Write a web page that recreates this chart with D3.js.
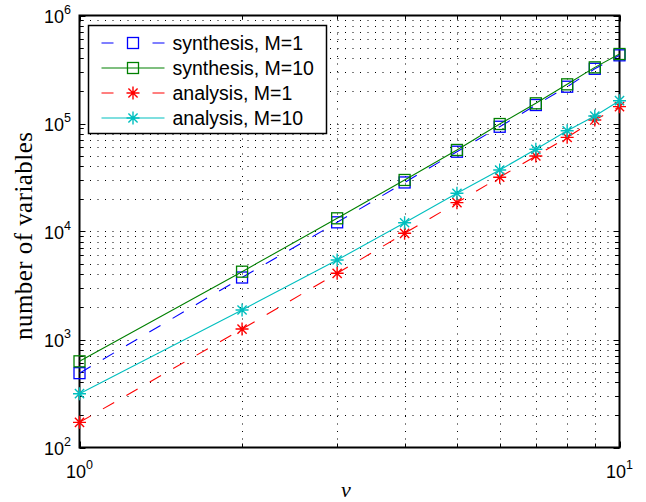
<!DOCTYPE html>
<html>
<head>
<meta charset="utf-8">
<script src="https://cdn.jsdelivr.net/npm/d3@7"></script>
<style>
  body { margin: 0; background: #fff; }
  svg { display: block; }
</style>
</head>
<body>
<div id="chart"></div>
<script>
// data
var nu = [1, 2, 3, 4, 5, 6, 7, 8, 9, 10];
var synthesisM1 = [488, 3750, 12160, 28450, 54800, 93300, 148300, 219000, 321000, 427800];
var synthesisM10 = [628, 4246, 13250, 30000, 56900, 98900, 153800, 230500, 331000, 440000];
var analysisM1 = [171, 1250, 4100, 9620, 18500, 31800, 50000, 74400, 107700, 143200];
var analysisM10 = [315, 1875, 5445, 12050, 22600, 37100, 57700, 85700, 117200, 162600];
var seriesNames = ['synthesis, M=1', 'synthesis, M=10', 'analysis, M=1', 'analysis, M=10'];
var xTickExp = [0, 1];
var yTickExp = [2, 3, 4, 5, 6];

// params
var width = 646;
var height = 502;
var plotLeft = 79.5, plotRight = 619.5, plotTop = 15.5, plotBottom = 447.5;
var sansFont = '"Liberation Sans", Arial, Helvetica, sans-serif';
var serifFont = '"Liberation Serif", "Times New Roman", serif';

var series = [
  { name: seriesNames[0], values: synthesisM1, color: '#0000ff', dash: '13,14', marker: 'square' },
  { name: seriesNames[1], values: synthesisM10, color: '#008000', dash: null, marker: 'square' },
  { name: seriesNames[2], values: analysisM1, color: '#ff0000', dash: '13,14', marker: 'star' },
  { name: seriesNames[3], values: analysisM10, color: '#00bfbf', dash: null, marker: 'star' }
];

var svg = d3.select('#chart').append('svg')
  .attr('width', width)
  .attr('height', height);

var x = d3.scaleLog().domain([1, 10]).range([plotLeft, plotRight]);
var y = d3.scaleLog().domain([1e2, 1e6]).range([plotBottom, plotTop]);

// grid positions (major + minor)
var xGrid = d3.range(2, 10);
var yGrid = [];
yTickExp.slice(0, -1).forEach(function(e) {
  for (var m = 1; m <= 9; m++) yGrid.push(m * Math.pow(10, e));
});
yGrid.push(1e6);

var grid = svg.append('g')
  .attr('stroke', '#000')
  .attr('stroke-width', 1)
  .attr('stroke-dasharray', '1,6.5');
grid.selectAll('line.gx').data(xGrid).enter().append('line')
  .attr('class', 'gx')
  .attr('x1', d => Math.round(x(d)) + 0.5)
  .attr('x2', d => Math.round(x(d)) + 0.5)
  .attr('y1', plotTop + 3)
  .attr('y2', plotBottom);
grid.selectAll('line.gy').data(yGrid.filter(d => d > 1e2 && d < 1e6)).enter().append('line')
  .attr('class', 'gy')
  .attr('x1', plotLeft + 3)
  .attr('x2', plotRight)
  .attr('y1', d => Math.round(y(d)) + 0.5)
  .attr('y2', d => Math.round(y(d)) + 0.5);

// inward ticks on all four sides
var ticks = svg.append('g').attr('stroke', '#000').attr('stroke-width', 1);
var xTickVals = d3.range(1, 11);
xTickVals.forEach(function(v) {
  var len = (v === 1 || v === 10) ? 6 : 4;
  var px = Math.round(x(v)) + 0.5;
  ticks.append('line').attr('x1', px).attr('x2', px).attr('y1', plotBottom).attr('y2', plotBottom - len);
  ticks.append('line').attr('x1', px).attr('x2', px).attr('y1', plotTop).attr('y2', plotTop + len);
});
yGrid.forEach(function(v) {
  var major = Math.abs(Math.log10(v) - Math.round(Math.log10(v))) < 1e-9;
  var len = major ? 6 : 4;
  var py = Math.round(y(v)) + 0.5;
  ticks.append('line').attr('x1', plotLeft).attr('x2', plotLeft + len).attr('y1', py).attr('y2', py);
  ticks.append('line').attr('x1', plotRight).attr('x2', plotRight - len).attr('y1', py).attr('y2', py);
});

// axes box
svg.append('rect')
  .attr('x', plotLeft)
  .attr('y', plotTop)
  .attr('width', plotRight - plotLeft)
  .attr('height', plotBottom - plotTop)
  .attr('fill', 'none')
  .attr('stroke', '#000')
  .attr('stroke-width', 2);

// series lines
var line = d3.line()
  .x((d, i) => x(nu[i]))
  .y(d => y(d));

function drawMarker(g, kind, color) {
  if (kind === 'square') {
    g.append('rect')
      .attr('x', -5.5).attr('y', -5.5)
      .attr('width', 11).attr('height', 11)
      .attr('fill', 'none')
      .attr('stroke', color)
      .attr('stroke-width', 1.3);
  } else {
    var r = 6.5;
    var d = 4.6;
    var p = 'M' + (-r) + ',0L' + r + ',0M0,' + (-r) + 'L0,' + r +
      'M' + (-d) + ',' + (-d) + 'L' + d + ',' + d + 'M' + (-d) + ',' + d + 'L' + d + ',' + (-d);
    g.append('path')
      .attr('d', p)
      .attr('fill', 'none')
      .attr('stroke', color)
      .attr('stroke-width', 1.4);
  }
}

series.forEach(function(s) {
  svg.append('path')
    .datum(s.values)
    .attr('d', line)
    .attr('fill', 'none')
    .attr('stroke', s.color)
    .attr('stroke-width', 1.1)
    .attr('stroke-dasharray', s.dash);
  var mk = svg.append('g');
  s.values.forEach(function(v, i) {
    var g = mk.append('g').attr('transform', `translate(${x(nu[i])},${y(v)})`);
    drawMarker(g, s.marker, s.color);
  });
});

// tick labels
xTickExp.forEach(function(e) {
  var t = svg.append('text')
    .attr('x', x(Math.pow(10, e)))
    .attr('y', 478)
    .attr('text-anchor', 'middle')
    .attr('font-family', sansFont)
    .attr('font-size', 18);
  t.append('tspan').text('10');
  t.append('tspan').attr('dy', -9).attr('font-size', 12.5).text(e);
});
yTickExp.forEach(function(e) {
  var t = svg.append('text')
    .attr('x', 71)
    .attr('y', y(Math.pow(10, e)) + 7)
    .attr('text-anchor', 'end')
    .attr('font-family', sansFont)
    .attr('font-size', 18);
  t.append('tspan').text('10');
  t.append('tspan').attr('dy', -9).attr('font-size', 12.5).text(e);
});

// axis labels
svg.append('text')
  .attr('transform', 'translate(32,236) rotate(-90)')
  .attr('text-anchor', 'middle')
  .attr('font-family', serifFont)
  .attr('font-size', 25)
  .attr('textLength', 208)
  .attr('lengthAdjust', 'spacing')
  .text('number of variables');
svg.append('text')
  .attr('x', 346)
  .attr('y', 497)
  .attr('text-anchor', 'middle')
  .attr('font-family', serifFont)
  .attr('font-style', 'italic')
  .attr('font-size', 22)
  .text('ν');

// legend
var legend = svg.append('g').attr('transform', 'translate(88.5,25.5)');
legend.append('rect')
  .attr('width', 238)
  .attr('height', 108)
  .attr('fill', '#fff')
  .attr('stroke', '#000')
  .attr('stroke-width', 1.5);
series.forEach(function(s, i) {
  var row = legend.append('g').attr('transform', `translate(0,${17.5 + i * 25})`);
  row.append('line')
    .attr('x1', 13).attr('x2', 76)
    .attr('stroke', s.color)
    .attr('stroke-width', 1.1)
    .attr('stroke-dasharray', s.dash ? '12,39' : null);
  var m = row.append('g').attr('transform', 'translate(44.5,0)');
  drawMarker(m, s.marker, s.color);
  row.append('text')
    .attr('x', 84)
    .attr('y', 7)
    .attr('font-family', sansFont)
    .attr('font-size', 19.5)
    .text(s.name);
});
</script>
</body>
</html>
